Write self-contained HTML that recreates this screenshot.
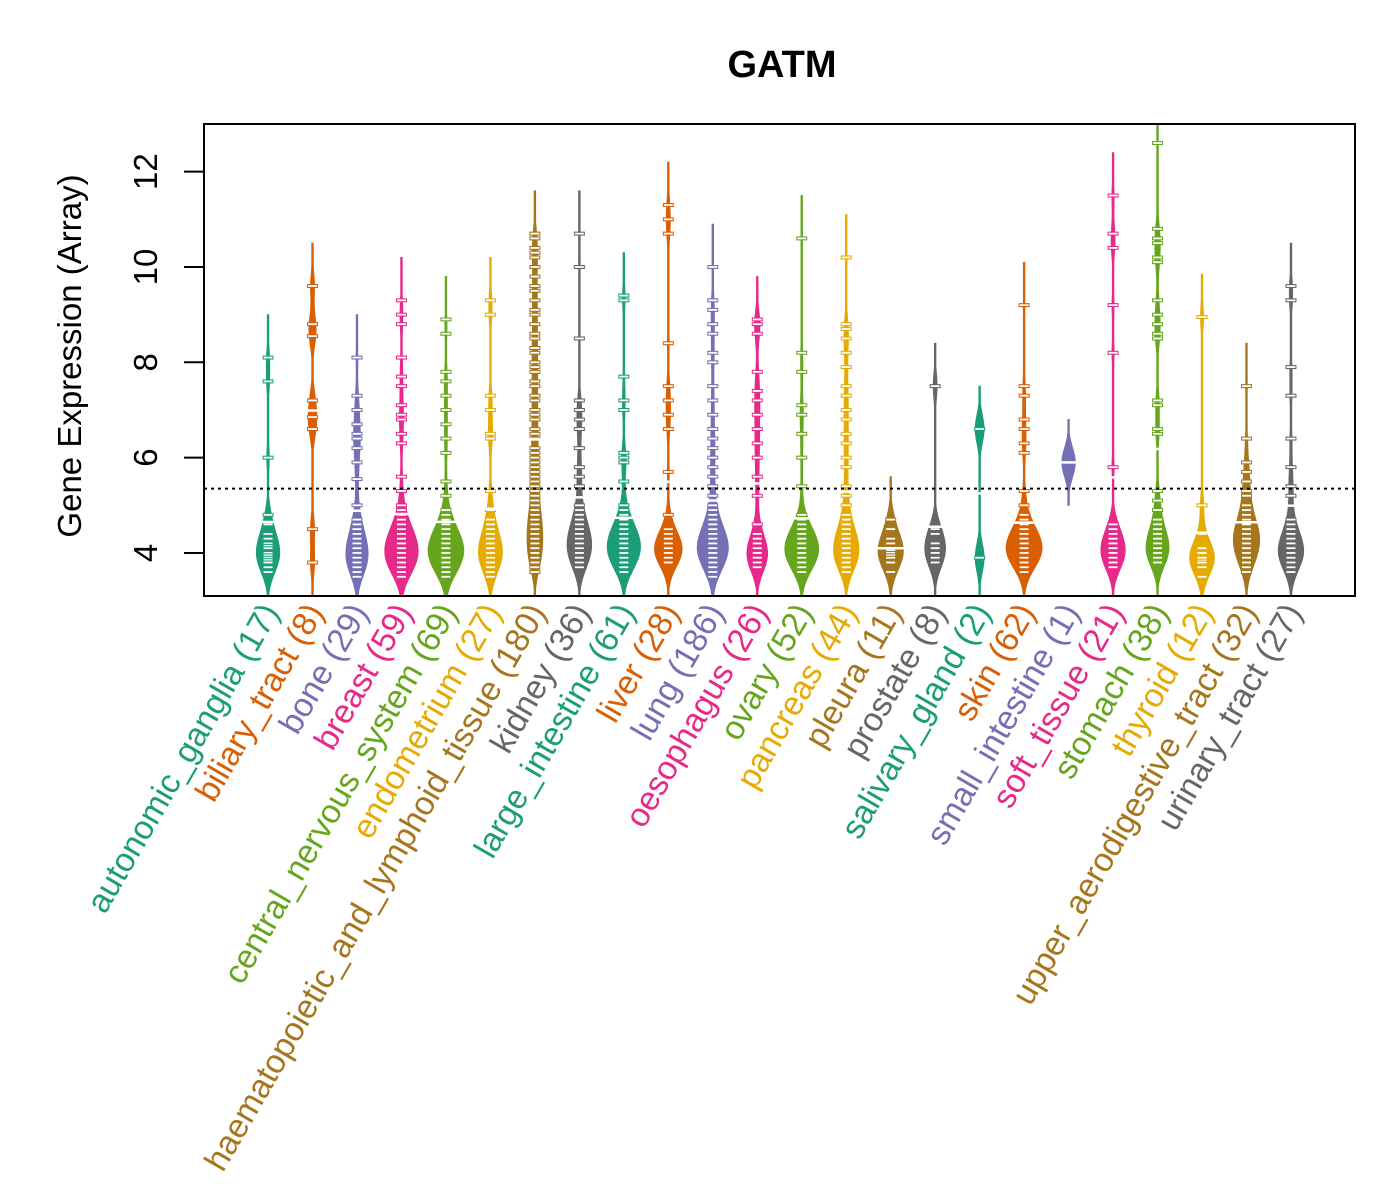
<!DOCTYPE html>
<html><head><meta charset="utf-8"><style>
html,body{margin:0;padding:0;background:#fff;}
svg{display:block;font-family:"Liberation Sans",Arial,sans-serif;}
</style></head><body>
<svg id="chart" width="1400" height="1200" viewBox="0 0 1400 1200">
<defs><clipPath id="plotclip"><rect x="204" y="124" width="1151" height="472"/></clipPath></defs>
<rect x="0" y="0" width="1400" height="1200" fill="#fff"/>
<text x="782" y="77" text-anchor="middle" font-size="38" font-weight="bold">GATM</text>
<text transform="translate(81,356) rotate(-90)" text-anchor="middle" font-size="33">Gene Expression (Array)</text>
<g id="beans" clip-path="url(#plotclip)"></g>
<g id="axes"></g>
<g id="xlabels"></g>
<rect x="204" y="124" width="1151" height="472" fill="none" stroke="#000" stroke-width="2"/>
</svg>
<script>
const categories = ["autonomic_ganglia (17)","biliary_tract (8)","bone (29)","breast (59)","central_nervous_system (69)","endometrium (27)","haematopoietic_and_lymphoid_tissue (180)","kidney (36)","large_intestine (61)","liver (28)","lung (186)","oesophagus (26)","ovary (52)","pancreas (44)","pleura (11)","prostate (8)","salivary_gland (2)","skin (62)","small_intestine (1)","soft_tissue (21)","stomach (38)","thyroid (12)","upper_aerodigestive_tract (32)","urinary_tract (27)"];
const colors = ["#1B9E77","#D95F02","#7570B3","#E7298A","#66A61E","#E6AB02","#A6761D","#666666"];
const yTicks = [4,6,8,10,12];
const yTickLabels = ["4","6","8","10","12"];
const refLine = 5.35;
const v_autonomic = [8.1,7.6,6.0,4.8,4.6,4.4,4.3,4.2,4.15,4.1,4.0,3.95,3.9,3.85,3.8,3.7,3.6];
const v_biliary = [9.6,8.8,8.55,7.2,6.85,6.6,4.5,3.8];
const v_bone = [8.1,7.3,7.0,6.7,6.5,6.4,6.2,5.9,5.55,5.0,4.7,4.6,4.5,4.4,4.3,4.2,4.2,4.1,4.1,4.0,4.0,3.9,3.9,3.8,3.8,3.7,3.7,3.6,3.5];
const v_breast = [9.3,9.0,8.8,8.1,7.7,7.5,7.1,6.9,6.8,6.5,6.3,5.6,5.3,5.0,4.9,4.8,4.7,4.6,4.6,4.5,4.5,4.4,4.4,4.3,4.3,4.3,4.2,4.2,4.2,4.1,4.1,4.1,4.0,4.0,4.0,4.0,3.9,3.9,3.9,3.9,3.8,3.8,3.8,3.8,3.7,3.7,3.7,3.6,3.6,3.6,4.1,4.2,4.0,3.9,4.3,4.4,4.5,3.5,3.5];
const v_cns = [8.9,8.6,7.8,7.6,7.3,7.0,6.7,6.4,6.1,5.5,5.2,4.9,4.8,4.7,4.7,4.6,4.6,4.5,4.5,4.4,4.4,4.4,4.3,4.3,4.3,4.2,4.2,4.2,4.2,4.1,4.1,4.1,4.1,4.0,4.0,4.0,4.0,3.9,3.9,3.9,3.9,3.8,3.8,3.8,3.8,3.7,3.7,3.7,3.6,3.6,3.6,3.5,3.5,4.0,4.1,4.2,3.9,4.3];
const v_endo = [9.3,9.0,7.3,7.0,6.5,6.4,5.3,4.9,4.7,4.6,4.5,4.4,4.3,4.2,4.2,4.1,4.1,4.0,4.0,3.9,3.9,3.8,3.8,3.7,3.6,3.5,4.0];
const v_haem = [10.7,10.6,10.4,10.3,10.2,10.0,9.8,9.6,9.5,9.3,9.1,9.0,8.8,8.6,8.5,8.3,8.2,8.0,7.9,7.8,7.6,7.5,7.3,7.2,7.0,6.9,6.8,6.6,6.5,6.4,6.2,6.1,6.0,5.9,5.8,5.7,5.6,5.5,5.4,5.3,5.2,5.1,5.0,4.9,4.8,4.7,4.6,4.5,4.4,4.3,4.2,4.1,4.0,3.9,3.8,3.7,3.6,4.5,4.4,4.3,4.2,4.1,4.0,3.9,3.8,4.6,4.7,4.8];
const v_kidney = [10.7,10.0,8.5,7.2,7.0,6.8,6.6,6.2,5.8,5.6,5.4,5.0,4.9,4.8,4.7,4.6,4.5,4.4,4.4,4.3,4.3,4.2,4.2,4.1,4.1,4.0,4.0,3.9,3.9,3.8,3.8,3.7,3.7,4.5,4.3,4.1];
const v_largeint = [9.4,9.3,7.7,7.2,7.0,6.1,6.0,5.9,5.5,5.0,4.9,4.8,4.7,4.6,4.6,4.5,4.5,4.4,4.4,4.3,4.3,4.3,4.2,4.2,4.2,4.1,4.1,4.1,4.0,4.0,4.0,3.9,3.9,3.9,3.8,3.8,3.8,3.7,3.7,3.6,3.6,4.5,4.4,4.3,4.2,4.1,4.0,3.9];
const v_liver = [11.3,11.0,10.7,8.4,7.5,7.2,6.9,6.6,5.7,4.8,4.5,4.4,4.3,4.2,4.2,4.1,4.1,4.0,4.0,3.9,3.9,3.8,3.8,4.3,4.0,4.1,4.2,3.9];
const v_lung = [10.0,9.3,9.1,8.8,8.6,8.2,8.0,7.5,7.2,6.9,6.6,6.4,6.2,6.0,5.8,5.6,5.4,5.2,5.0,4.9,4.8,4.7,4.7,4.6,4.6,4.5,4.5,4.4,4.4,4.4,4.3,4.3,4.3,4.2,4.2,4.2,4.2,4.1,4.1,4.1,4.0,4.0,4.0,4.0,3.9,3.9,3.9,3.8,3.8,3.8,3.7,3.7,3.6,3.6,3.5,4.1,4.2,4.3,4.0,3.9];
const v_oeso = [8.9,8.8,8.6,7.8,7.4,7.2,6.9,6.6,6.3,6.0,5.6,5.2,4.6,4.4,4.3,4.2,4.1,4.0,3.9,3.9,3.8,3.8,3.7,4.0,4.1,3.8];
const v_ovary = [10.6,8.2,7.8,7.1,6.9,6.5,6.0,5.4,4.8,4.7,4.6,4.5,4.5,4.4,4.4,4.3,4.3,4.2,4.2,4.2,4.1,4.1,4.1,4.0,4.0,4.0,3.9,3.9,3.9,3.8,3.8,3.8,3.7,3.7,3.6,3.6,4.1,4.2,4.3,4.0,3.9,4.4];
const v_pancreas = [10.2,8.8,8.7,8.5,8.2,7.9,7.5,7.3,7.0,6.8,6.5,6.3,6.0,5.8,5.4,5.2,5.0,4.8,4.7,4.6,4.5,4.4,4.3,4.2,4.2,4.1,4.1,4.0,4.0,3.9,3.9,3.8,3.8,3.7,3.6,4.0,4.1,3.9,4.2,4.3,3.8,4.4,3.7,4.5];
const v_pleura = [4.7,4.5,4.3,4.2,4.1,4.05,4.0,3.95,3.9,3.8,3.6];
const v_prostate = [7.5,4.5,4.4,4.2,4.0,3.9,3.8,4.1];
const v_salivary = [6.6,3.9];
const v_skin = [9.2,7.5,7.3,6.8,6.6,6.3,6.1,5.3,5.0,4.8,4.7,4.6,4.5,4.5,4.4,4.4,4.3,4.3,4.3,4.2,4.2,4.2,4.1,4.1,4.1,4.0,4.0,4.0,4.0,3.9,3.9,3.9,3.8,3.8,3.8,3.7,3.7,3.6,4.1,4.2,4.3,4.0,3.9,4.4,4.5,4.0];
const v_smallint = [5.9];
const v_soft = [11.5,10.7,10.4,9.2,8.2,5.8,4.6,4.5,4.4,4.3,4.2,4.1,4.0,4.0,3.9,3.9,3.8,3.8,3.7,4.1,4.2];
const v_stomach = [12.6,10.8,10.6,10.5,10.2,10.1,9.3,9.0,8.8,8.6,8.5,7.2,7.1,6.6,6.5,5.3,5.1,4.9,4.7,4.6,4.5,4.4,4.3,4.2,4.1,4.1,4.0,4.0,3.9,3.9,3.8,3.8,4.2,4.3,4.0,4.1,3.9,4.4];
const v_thyroid = [8.95,5.0,4.4,4.1,4.0,3.9,3.85,3.8,3.7,3.5,4.0,3.9];
const v_upper = [7.5,6.4,5.9,5.7,5.5,5.3,5.2,5.0,4.9,4.8,4.7,4.6,4.5,4.5,4.4,4.4,4.3,4.3,4.2,4.2,4.1,4.1,4.0,4.0,3.9,3.9,3.8,3.7,3.6,4.6,4.4,4.2];
const v_urinary = [9.6,9.3,7.9,7.3,6.4,5.8,5.4,5.2,4.7,4.6,4.5,4.4,4.3,4.2,4.2,4.1,4.1,4.0,4.0,3.9,3.9,3.8,3.8,3.7,3.6,4.0,4.1];
const seriesValues = [v_autonomic,v_biliary,v_bone,v_breast,v_cns,v_endo,v_haem,v_kidney,v_largeint,v_liver,v_lung,v_oeso,v_ovary,v_pancreas,v_pleura,v_prostate,v_salivary,v_skin,v_smallint,v_soft,v_stomach,v_thyroid,v_upper,v_urinary];

const NS = "http://www.w3.org/2000/svg";
const plotL=204, plotR=1355, plotT=124, plotB=596;
const xDomain=[-1.44, categories.length-1+1.44];
const yDomain=[3.097, 13.0];
function xScale(i){return plotL+(i-xDomain[0])/(xDomain[1]-xDomain[0])*(plotR-plotL);}
function yScale(v){return plotB-(v-yDomain[0])/(yDomain[1]-yDomain[0])*(plotB-plotT);}
function mk(tag,attrs,parent){const e=document.createElementNS(NS,tag);for(const k in attrs)e.setAttribute(k,attrs[k]);parent.appendChild(e);return e;}

const BW=0.3;
function kde(v,bw,t){let s=0;for(const x of v){const z=(t-x)/bw;s+=Math.exp(-0.5*z*z);}return s/(v.length*bw*Math.sqrt(2*Math.PI));}

const beans=document.getElementById('beans');
const profiles=[]; let gmax=0;
seriesValues.forEach((v,i)=>{
  const w=Math.pow(v.length,0.4);
  const lo=Math.min(...v)-3*BW, hi=Math.max(...v)+3*BW;
  const pts=[];
  for(let k=0;k<=240;k++){const t=lo+(hi-lo)*k/240;const d=kde(v,BW,t)*w;pts.push([t,d]);if(d>gmax)gmax=d;}
  profiles.push({pts,w});
});
const maxHalf=18;
seriesValues.forEach((v,i)=>{
  const cx=xScale(i), col=colors[i%colors.length];
  const g=mk('g',{},beans);
  
  
  const pts=profiles[i].pts;
  const hw=d=>Math.max(0.8,d/gmax*maxHalf);
  let dR=pts.map(p=>`${(cx+hw(p[1])).toFixed(2)},${yScale(p[0]).toFixed(2)}`);
  let dL=pts.slice().reverse().map(p=>`${(cx-hw(p[1])).toFixed(2)},${yScale(p[0]).toFixed(2)}`);
  const poly=mk('polygon',{points:dR.concat(dL).join(' '),fill:col,stroke:col,'stroke-width':'0.8'},g);
  
  
  v.forEach(val=>{
    const y=yScale(val);
    const bg=mk('line',{x1:cx-5.5,x2:cx+5.5,y1:y,y2:y,stroke:col,'stroke-width':'4'},g);
    
    
    const ln=mk('line',{x1:cx-4.5,x2:cx+4.5,y1:y,y2:y,stroke:'#fff','stroke-width':'1.8'},g);
    
    
  });
  const mean=v.reduce((a,b)=>a+b,0)/v.length;
  const dm=kde(v,BW,mean)*profiles[i].w;
  const mh=Math.max(6,hw(dm)+1);
  const ym=yScale(mean);
  const ml=mk('line',{x1:cx-mh,x2:cx+mh,y1:ym,y2:ym,stroke:'#fff','stroke-width':'2.5'},g);
  
  
});
const rl=mk('line',{x1:plotL,x2:plotR,y1:yScale(refLine),y2:yScale(refLine),stroke:'#000','stroke-width':'2','stroke-dasharray':'3,4'},beans);



const axes=document.getElementById('axes');
mk('line',{x1:plotL,x2:plotL,y1:yScale(yTicks[0]),y2:yScale(yTicks[yTicks.length-1]),stroke:'#000','stroke-width':'2'},axes);
yTicks.forEach((t,k)=>{
  const y=yScale(t);
  const tk=mk('line',{x1:plotL-20,x2:plotL,y1:y,y2:y,stroke:'#000','stroke-width':'2'},axes);
  
  
  const tx=mk('text',{transform:`translate(157,${y}) rotate(-90)`,'text-anchor':'middle','font-size':'33'},axes);
  tx.textContent=yTickLabels[k];
  
  
});
const xl=document.getElementById('xlabels');
categories.forEach((c,i)=>{
  const x=xScale(i);
  const tx=mk('text',{transform:`translate(${x+12},${612}) rotate(-60)`,'text-anchor':'end','font-size':'33.5',fill:colors[i%colors.length]},xl);
  tx.textContent=c;
  
  
});
</script>
</body></html>
